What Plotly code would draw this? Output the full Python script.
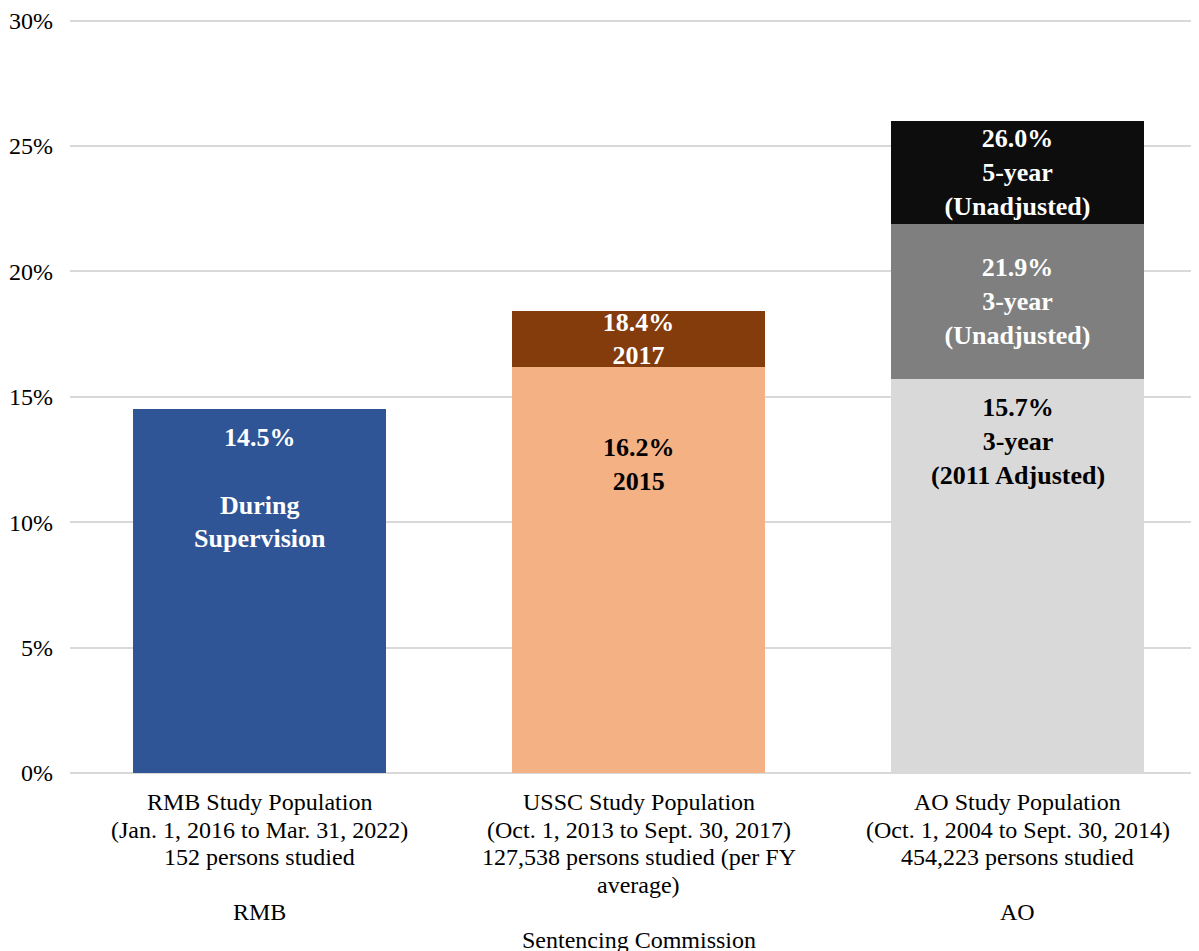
import plotly.graph_objects as go

cat_ids = ["RMB", "USSC", "AO"]
# category label lines (first level) and group label (second level)
cat_lines = [
    ["RMB Study Population", "(Jan. 1, 2016 to Mar. 31, 2022)", "152 persons studied"],
    ["USSC Study Population", "(Oct. 1, 2013 to Sept. 30, 2017)", "127,538 persons studied (per FY", "average)"],
    ["AO Study Population", "(Oct. 1, 2004 to Sept. 30, 2014)", "454,223 persons studied"],
]
group_labels = ["RMB", "Sentencing Commission", "AO"]

# y axis ticks
y_ticks = [0, 5, 10, 15, 20, 25, 30]
y_tick_labels = ["0%", "5%", "10%", "15%", "20%", "25%", "30%"]

# stacked segment heights (percent)
base_vals = [14.5, 16.2, 15.7]
mid_vals = [0, 2.2, 6.2]
top_vals = [0, 0, 4.1]

base_text = ["<b>14.5%<br> <br>During<br>Supervision</b>", "<b>16.2%<br>2015</b>",
             "<b>15.7%<br>3-year<br>(2011 Adjusted)</b>"]
base_text_colors = ["white", "black", "black"]
mid_text = ["", "<b>18.4%<br>2017</b>", "<b>21.9%<br>3-year<br>(Unadjusted)</b>"]
top_text = ["", "", "<b>26.0%<br>5-year<br>(Unadjusted)</b>"]

base_colors = ["#2F5597", "#F4B183", "#D9D9D9"]
mid_colors = ["#843C0C", "#843C0C", "#7F7F7F"]
top_colors = ["#0D0D0D", "#0D0D0D", "#0D0D0D"]

FONT = "Liberation Serif, Times New Roman, serif"
LABEL_SIZE = 26
base_label_shift = [-12, -64, -12]  # px below the top of the bottom segment

fig = go.Figure()

fig.add_trace(go.Bar(
    x=cat_ids, y=base_vals,
    marker=dict(color=base_colors, line=dict(width=0)),
    hoverinfo="skip"
))
fig.add_trace(go.Bar(
    x=cat_ids, y=mid_vals, text=mid_text,
    marker=dict(color=mid_colors, line=dict(width=0)),
    textposition="inside", insidetextanchor="middle", textangle=0,
    constraintext="none",
    textfont=dict(family=FONT, size=LABEL_SIZE, color="white"),
    hoverinfo="skip"
))
fig.add_trace(go.Bar(
    x=cat_ids, y=top_vals, text=top_text,
    marker=dict(color=top_colors, line=dict(width=0)),
    textposition="inside", insidetextanchor="middle", textangle=0,
    constraintext="none",
    textfont=dict(family=FONT, size=LABEL_SIZE, color="white"),
    hoverinfo="skip"
))

# labels of the bottom segments sit near the top of the segment
for cat, val, txt, col, shift in zip(cat_ids, base_vals, base_text, base_text_colors, base_label_shift):
    fig.add_annotation(x=cat, y=val, xref="x", yref="y", text=txt, showarrow=False,
                       yanchor="top", yshift=shift,
                       font=dict(family=FONT, size=LABEL_SIZE, color=col))

# multi-level category labels, tight line spacing like the original
line_step = 27.6
for cat, lines, group in zip(cat_ids, cat_lines, group_labels):
    for i, line in enumerate(lines):
        fig.add_annotation(x=cat, y=0, xref="x", yref="paper", text=line,
                           showarrow=False, yanchor="middle", yshift=-(29 + line_step * i),
                           font=dict(family=FONT, size=24, color="black"))
    n = 6 if len(lines) > 3 else 5
    fig.add_annotation(x=cat, y=0, xref="x", yref="paper", text=group,
                       showarrow=False, yanchor="middle", yshift=-(29 + line_step * (n - 1)),
                       font=dict(family=FONT, size=24, color="black"))

fig.update_layout(
    barmode="stack",
    bargap=0.335,
    showlegend=False,
    width=1199,
    height=951,
    margin=dict(l=62, r=0, t=10, b=186),
    plot_bgcolor="white",
    paper_bgcolor="white",
    font=dict(family=FONT, size=24, color="black"),
    xaxis=dict(
        type="category",
        range=[-0.5, 2.5],
        showticklabels=False,
        showgrid=False,
        ticks="",
        showline=False,
        automargin=False,
    ),
    yaxis=dict(
        range=[0, 30.1],
        tickmode="array",
        tickvals=y_ticks,
        ticktext=y_tick_labels,
        showgrid=True,
        gridcolor="#D9D9D9",
        gridwidth=1.5,
        zeroline=True,
        zerolinecolor="#D9D9D9",
        zerolinewidth=1.5,
        ticks="",
        ticklabelstandoff=16,
        ticklabeloverflow="allow",
        tickfont=dict(size=24),
        automargin=False,
    ),
)

fig.write_html("out.html")
